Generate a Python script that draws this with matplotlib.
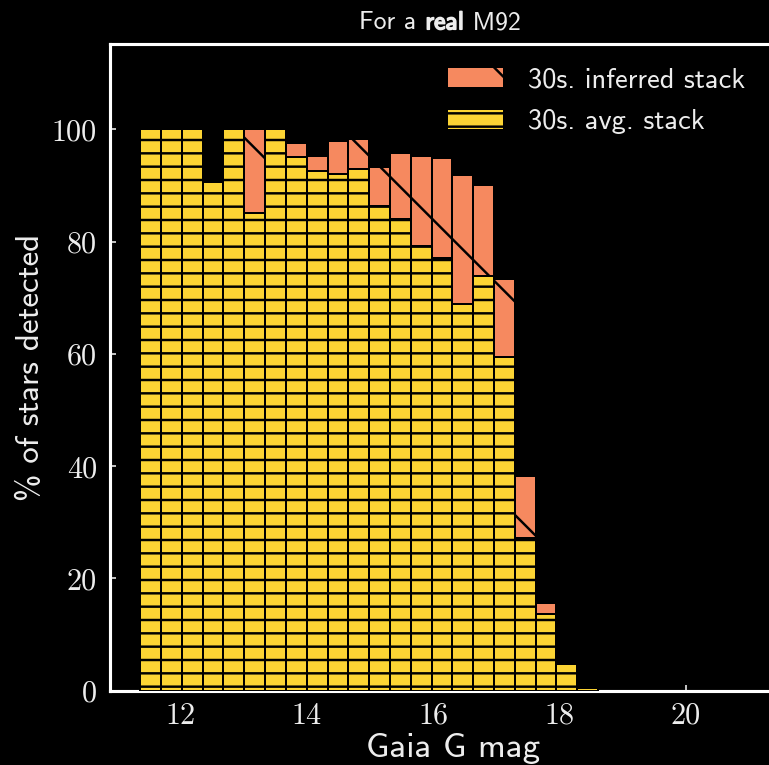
import numpy as np
import matplotlib
matplotlib.use("Agg")
import matplotlib.pyplot as plt
from matplotlib.patches import Patch
import matplotlib.patheffects as pe

# Magnitude bins (Gaia G) and detection fractions per bin
bin_lo, bin_hi, n_bins = 11.37, 18.61, 22
inferred_pct = [100, 100, 100, 90.6, 100, 100, 100, 97.6, 95.3, 97.9, 98.2,
                93.3, 95.8, 95.3, 94.9, 91.8, 90.1, 73.3, 38.2, 15.7, 4.8, 0.4]
avg_pct = [100, 100, 100, 90.6, 100, 85.1, 100, 95.1, 92.6, 92.0, 93.0,
           86.3, 84.0, 79.2, 77.0, 68.9, 73.8, 59.4, 27.2, 13.6, 4.8, 0.4]
series_labels = ["30s. inferred stack", "30s. avg. stack"]
xticks = [12, 14, 16, 18, 20]
yticks = [0, 20, 40, 60, 80, 100]

ORANGE = "#F6895F"
YELLOW = "#FCD434"
FG = "#EDEDED"

DPI = 320
W, H = 769, 765
plt.rcParams["hatch.linewidth"] = 0.55

fig = plt.figure(figsize=(W / DPI, H / DPI), dpi=DPI, facecolor="black")
ax = fig.add_axes([110 / W, (H - 690.7) / H, (W - 110) / W, (690.7 - 43.5) / H])
ax.set_facecolor("black")

edges = np.linspace(bin_lo, bin_hi, n_bins + 1)
width = edges[1] - edges[0]

ax.bar(edges[:-1], inferred_pct, width=width, align="edge", color=ORANGE,
       edgecolor="black", linewidth=0.45, hatch="\\", zorder=2)
ax.bar(edges[:-1], avg_pct, width=width, align="edge", color=YELLOW,
       edgecolor="black", linewidth=0.45, hatch="----", zorder=3)

ax.set_xlim(10.893, 21.312)
ax.set_ylim(0, 115.3)

for side in ("left", "top", "bottom"):
    ax.spines[side].set_color("white")
    ax.spines[side].set_linewidth(0.7)
ax.spines["right"].set_visible(False)

ax.set_xticks(xticks)
ax.set_yticks(yticks)
ax.tick_params(direction="in", length=1.4, width=0.34, color="white",
               labelcolor=FG, labelsize=6.8)
ax.tick_params(axis="y", pad=2.9)
ax.tick_params(axis="x", pad=2.5)
for lab in ax.get_xticklabels() + ax.get_yticklabels():
    lab.set_fontfamily("cmr10")

ax.set_xlabel("Gaia G mag", fontfamily="cmss10", fontsize=7.9, color=FG)
ax.set_ylabel("% of stars detected", fontfamily="cmss10", fontsize=7.4, color=FG)
ax.xaxis.set_label_coords(0.5205, -0.066)
ax.yaxis.set_label_coords(-0.0986, 0.5)

handles = [
    Patch(facecolor=ORANGE, edgecolor="black", linewidth=0, hatch="\\"),
    Patch(facecolor=YELLOW, edgecolor="black", linewidth=0, hatch="----"),
]
leg = fig.legend(handles, series_labels, loc="upper left",
                 bbox_to_anchor=(448 / W, 1 - 67.4 / H), frameon=False,
                 borderpad=0, borderaxespad=0, handlelength=1.93,
                 handleheight=0.67, handletextpad=0.88, labelspacing=0.59,
                 prop={"family": "cmss10", "size": 6.4})
for t in leg.get_texts():
    t.set_color(FG)

# Title assembled from pieces so the middle word can be emphasised
renderer = fig.canvas.get_renderer()
title_parts = [("For a ", False), ("real", True), (" M92", False)]
ty = (H - 29.3) / H
objs = []
for txt, bold in title_parts:
    t = fig.text(0, ty, txt, fontfamily="cmss10", fontsize=5.8, color=FG,
                 ha="left", va="baseline")
    if bold:
        t.set_path_effects([pe.withStroke(linewidth=0.35, foreground=FG)])
    objs.append(t)
widths = [o.get_window_extent(renderer).width for o in objs]
total = sum(widths)
x0 = 440 - total / 2
for o, w in zip(objs, widths):
    o.set_x(x0 / W)
    x0 += w

fig.savefig("out.png", dpi=DPI, facecolor="black")
